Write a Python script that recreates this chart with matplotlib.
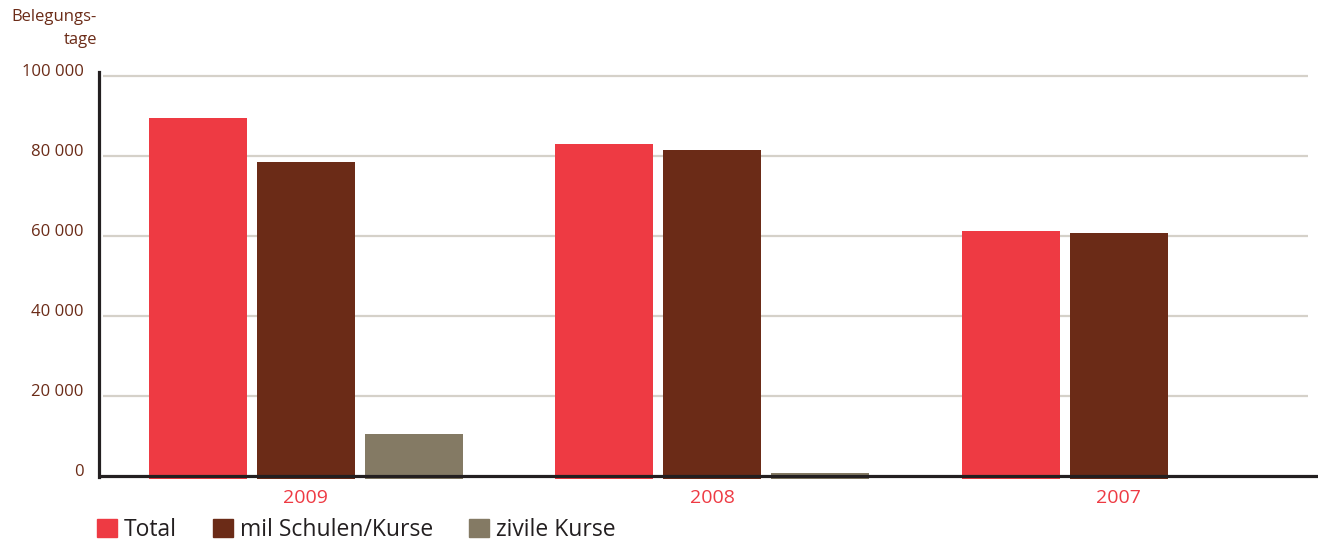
import numpy as np
import matplotlib.pyplot as plt
from matplotlib.patches import Patch
from matplotlib.transforms import ScaledTranslation

plt.rcParams['font.family'] = ['Open Sans', 'DejaVu Sans']

# données
jahre = ["2009", "2008", "2007"]
total = [89500, 83000, 61300]
mil_schulen = [78500, 81500, 60700]
zivile_kurse = [10500, 750, 0]
y_ticks = [0, 20000, 40000, 60000, 80000, 100000]
y_labels = ["0", "20 000", "40 000", "60 000", "80 000", "100 000"]

ROUGE = "#EE3A43"
BRUN = "#6B2B17"
GRIS = "#847A64"
NOIR = "#231F20"
GRILLE = "#D5D1C9"

fig = plt.figure(figsize=(13.21, 5.40), dpi=100)
ax = fig.add_axes([99 / 1321, 1 - 479 / 540, 1219 / 1321, 407 / 540])

x = np.arange(len(jahre))
largeur = 0.241
decal = 0.2657
ext = 700  # les barres descendent un peu sous la ligne de base

for val, off, col in [(total, -decal, ROUGE), (mil_schulen, 0, BRUN), (zivile_kurse, decal, GRIS)]:
    val = np.array(val, dtype=float)
    mask = val > 0
    ax.bar(x[mask] + off, val[mask] + ext, bottom=-ext, width=largeur, color=col, zorder=2)

ax.hlines(y_ticks[1:], -0.499, 2.465, color=GRILLE, lw=1.6, zorder=1)
ax.axhline(0, color=NOIR, lw=2.3, zorder=3)

ax.set_xlim(-0.509, 2.49)
ax.set_ylim(-750, 101000)

for s in ["top", "right", "bottom"]:
    ax.spines[s].set_visible(False)
ax.spines["left"].set_color(NOIR)
ax.spines["left"].set_linewidth(2.3)
ax.spines["left"].set_bounds(-300, 101000)

ax.set_yticks(y_ticks)
ax.set_yticklabels(y_labels, fontsize=12, color=BRUN)
ax.tick_params(axis="y", length=0, pad=11)
off = ScaledTranslation(0, 6 / 100, fig.dpi_scale_trans)
for lab in ax.get_yticklabels():
    lab.set_transform(lab.get_transform() + off)

ax.set_xticks(x)
ax.set_xticklabels(jahre, fontsize=14, color=ROUGE)
ax.tick_params(axis="x", length=0, pad=7)

fig.text(97 / 1321, 1 - 9 / 540, "Belegungs-\ntage", ha="right", va="top",
         fontsize=12, color=BRUN, linespacing=1.55)

handles = [Patch(color=ROUGE, label="Total"),
           Patch(color=BRUN, label="mil Schulen/Kurse"),
           Patch(color=GRIS, label="zivile Kurse")]
leg = fig.legend(handles=handles, loc="lower left", bbox_to_anchor=(88 / 1321, -0.02),
                 ncol=3, frameon=False, fontsize=16.5, handlelength=0.85, handleheight=0.85,
                 handletextpad=0.3, columnspacing=1.6, borderaxespad=0)
for t in leg.get_texts():
    t.set_color(NOIR)

plt.savefig("out.png", dpi=100)
plt.close()
